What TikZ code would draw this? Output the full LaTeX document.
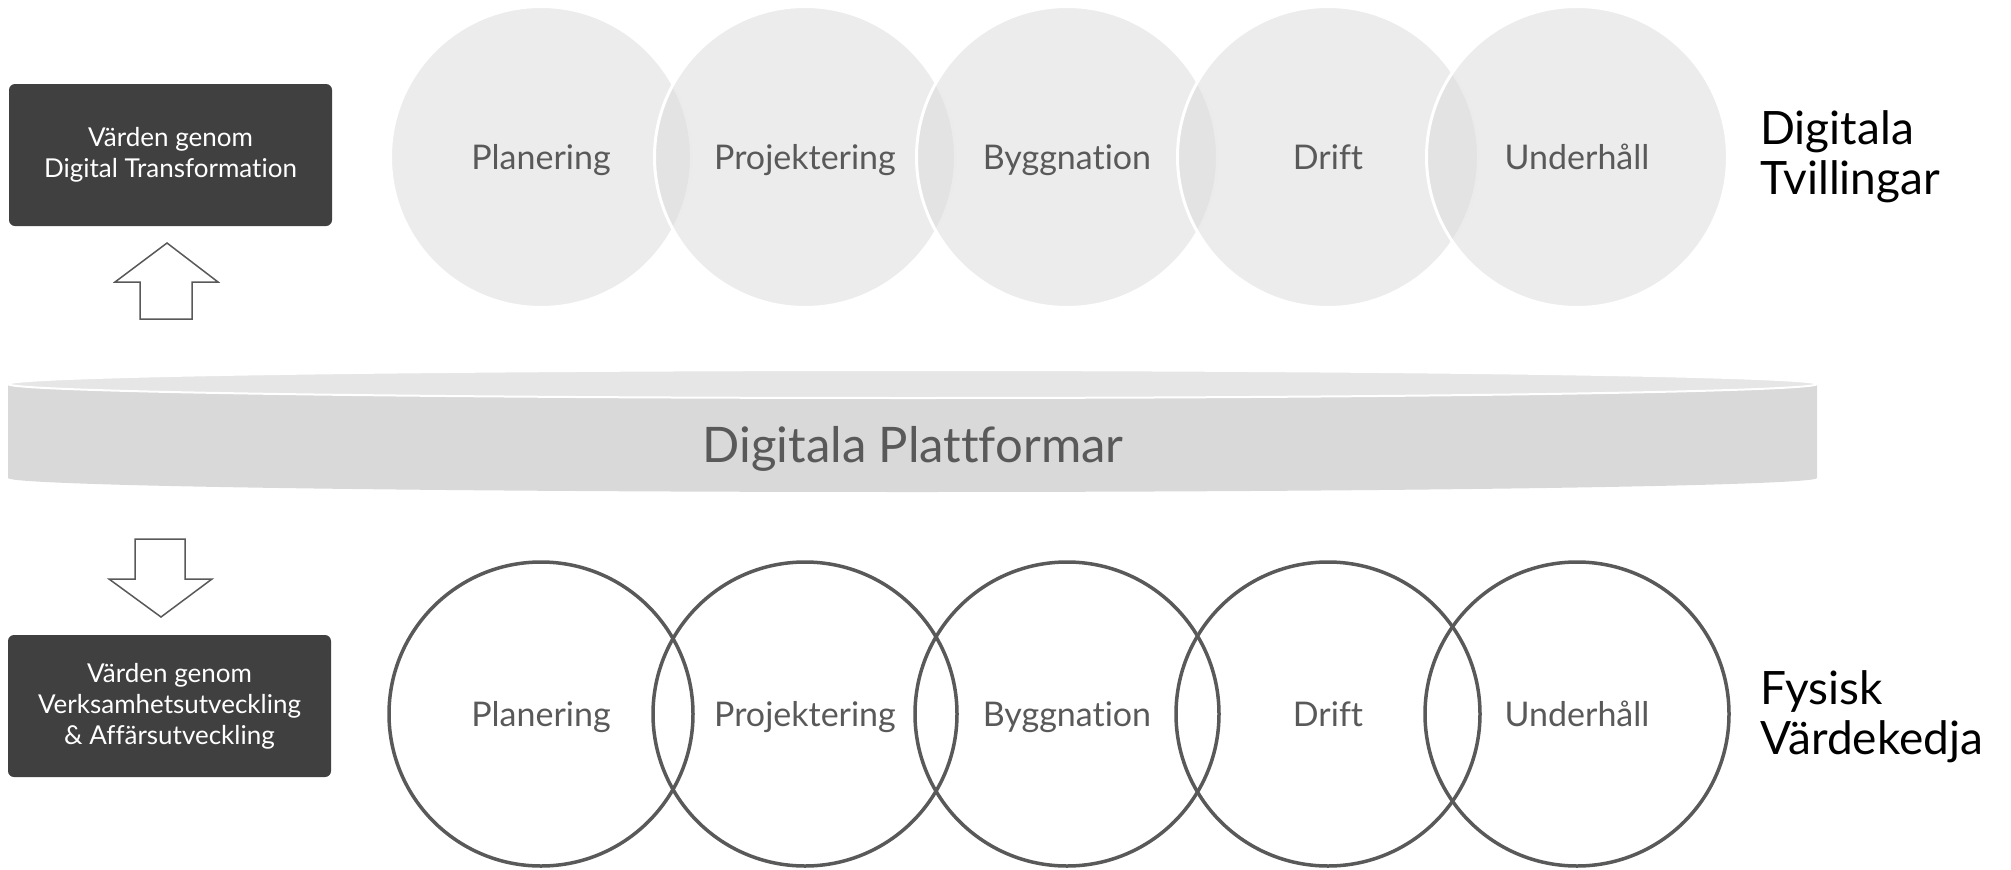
\documentclass[tikz,border=0pt]{standalone}
\usepackage{fontspec}
\setmainfont{Lato}[Ligatures={CommonOff}]
\setsansfont{Lato}[Ligatures={CommonOff}]
\definecolor{boxgray}{RGB}{64,64,64}
\definecolor{labelgray}{RGB}{89,89,89}
\definecolor{bubblegray}{RGB}{219,219,219}
\definecolor{platformtop}{RGB}{230,230,230}
\definecolor{platformside}{RGB}{217,217,217}

\begin{document}
\begin{tikzpicture}[x=1pt, y=-1pt,
    twin/.style={circle, minimum size=301pt, inner sep=0pt, fill=bubblegray, fill opacity=0.53,
      text opacity=1, draw=white, line width=3pt, text=labelgray,
      font=\fontsize{34}{34}\selectfont, text height=25pt, text depth=0pt},
    chain/.style={circle, minimum size=304pt, inner sep=0pt, draw=labelgray, line width=3.5pt,
      text=labelgray, font=\fontsize{34}{34}\selectfont, text height=25pt, text depth=0pt},
    valuebox/.style={rectangle, rounded corners=6pt, fill=boxgray, text=white, align=center,
      minimum width=323pt, minimum height=142pt, inner sep=0pt,
      font=\fontsize{26}{31}\selectfont},
    blockarrow/.style={draw=labelgray, fill=white, line width=1.5pt, line join=miter},
    layer/.style={anchor=north west, align=left, inner sep=0pt, font=\fontsize{46}{50}\selectfont}]
  \useasboundingbox (0,0) rectangle (2011,870);

  % digital twins
  \node [twin] (dplan)   at (541,157)  {Planering};
  \node [twin] (dproj)   at (805,157)  {Projektering};
  \node [twin] (dbygg)   at (1067,157) {Byggnation};
  \node [twin] (ddrift)  at (1328,157) {Drift};
  \node [twin] (dunder)  at (1577,157) {Underhåll};
  \node [layer] (twins) at (1760,110) {Digitala\\Tvillingar};

  % platform
  \fill [platformside] (8,385) -- (8,478) arc [start angle=180, end angle=0, x radius=904.5, y radius=14]
    -- (1817,385) -- cycle;
  \draw [white, line width=2pt, fill=platformtop] (912.5,384) ellipse [x radius=904.5, y radius=14];
  \node [anchor=base, text=labelgray, font=\fontsize{49}{49}\selectfont] (platform) at (913,462)
    {Digitala Plattformar};

  % physical value chain
  \node [chain] (fplan)  at (541,714)  {Planering};
  \node [chain] (fproj)  at (805,714)  {Projektering};
  \node [chain] (fbygg)  at (1067,714) {Byggnation};
  \node [chain] (fdrift) at (1328,714) {Drift};
  \node [chain] (funder) at (1577,714) {Underhåll};
  \node [layer] (chainlabel) at (1760,670) {Fysisk\\Värdekedja};

  % values
  \node [valuebox] (valdigital) at (170.5,155) {Värden genom\\Digital Transformation};
  \node [valuebox] (valbusiness) at (169.5,706) {Värden genom\\Verksamhetsutveckling\\\& Affärsutveckling};

  \coordinate (uptip) at (167,243);
  \draw [blockarrow] (uptip) -- ++(51,39) -- ++(-26,0) -- ++(0,37) -- ++(-52,0) -- ++(0,-37)
    -- ++(-25,0) -- cycle;
  \coordinate (downtip) at (161,617);
  \draw [blockarrow] (downtip) -- ++(51,-38) -- ++(-27,0) -- ++(0,-40) -- ++(-50,0) -- ++(0,40)
    -- ++(-26,0) -- cycle;
\end{tikzpicture}
\end{document}
